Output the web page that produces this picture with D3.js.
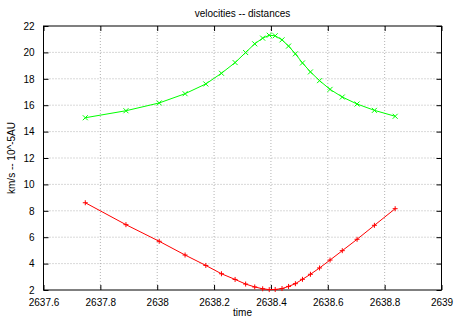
<!DOCTYPE html>
<html><head><meta charset="utf-8">
<script src="https://cdn.jsdelivr.net/npm/d3@7"></script>
<style>body{margin:0;background:#fff}svg{display:block}text{font-family:"Liberation Sans",Arial,sans-serif;font-size:10px;fill:#000}</style>
</head><body>
<script>
const times = [2637.747,2637.890,2638.007,2638.098,2638.171,2638.226,2638.274,2638.311,2638.343,2638.371,2638.394,2638.415,2638.439,2638.462,2638.486,2638.511,2638.539,2638.571,2638.608,2638.651,2638.703,2638.764,2638.837];
const velocities = [15.05,15.58,16.17,16.87,17.61,18.42,19.23,19.99,20.65,21.08,21.30,21.26,20.95,20.48,19.89,19.20,18.52,17.86,17.20,16.62,16.09,15.61,15.16];
const distances = [8.61,6.95,5.69,4.65,3.86,3.23,2.80,2.45,2.23,2.09,2.03,2.04,2.11,2.27,2.48,2.81,3.19,3.67,4.27,4.98,5.84,6.90,8.16];
const xTicks = [2637.6,2637.8,2638,2638.2,2638.4,2638.6,2638.8,2639];
const yTicks = [2,4,6,8,10,12,14,16,18,20,22];
const title = "velocities -- distances", xLabel = "time", yLabel = "km/s -- 10^-5AU";

const W=455,H=319, L=43.5, R=441.5, T=26, B=290;
const svg=d3.select("body").append("svg").attr("width",W).attr("height",H);
const x=d3.scaleLinear().domain([2637.6,2639]).range([L,R]);
const y=d3.scaleLinear().domain([2,22]).range([B,T]);

// grid
const g=svg.append("g");
xTicks.slice(1,-1).forEach(t=>g.append("line").attr("x1",x(t)).attr("x2",x(t)).attr("y1",T).attr("y2",B).attr("stroke","#a0a0a0").attr("stroke-width",0.8).attr("stroke-dasharray","1,2"));
yTicks.slice(1,-1).forEach(t=>g.append("line").attr("x1",L).attr("x2",R).attr("y1",y(t)).attr("y2",y(t)).attr("stroke","#a0a0a0").attr("stroke-width",0.8).attr("stroke-dasharray","1,2"));

// axes (ticks inward, mirrored)
const fmt=d=>d3.format("")(+d.toFixed(1));
svg.append("g").attr("transform",`translate(0,${B})`).call(d3.axisBottom(x).tickValues(xTicks).tickSize(-5).tickPadding(9).tickFormat(fmt)).call(a=>a.select(".domain").remove());
svg.append("g").attr("transform",`translate(0,${T})`).call(d3.axisTop(x).tickValues(xTicks).tickSize(-5).tickFormat("")).call(a=>a.select(".domain").remove());
svg.append("g").attr("transform",`translate(${L},0)`).call(d3.axisLeft(y).tickValues(yTicks).tickSize(-5).tickPadding(9)).call(a=>a.select(".domain").remove());
svg.append("g").attr("transform",`translate(${R},0)`).call(d3.axisRight(y).tickValues(yTicks).tickSize(-5).tickFormat("")).call(a=>a.select(".domain").remove());
svg.selectAll(".tick text").style("font-family","Liberation Sans, Arial, sans-serif").style("font-size","10px").attr("fill","#000");
svg.selectAll(".tick line").attr("stroke","#000");
svg.append("rect").attr("x",L).attr("y",T).attr("width",R-L).attr("height",B-T).attr("fill","none").attr("stroke","#000").attr("stroke-width",1);

// series
function series(vals,color,marker){
  const pts=times.map((t,i)=>[x(t),y(vals[i])]);
  svg.append("path").attr("d",d3.line()(pts)).attr("fill","none").attr("stroke",color).attr("stroke-width",1);
  const s=2.5;
  pts.forEach(([px,py])=>{
    const d = marker==="x" ? `M${px-s},${py-s}L${px+s},${py+s}M${px-s},${py+s}L${px+s},${py-s}` : `M${px-s},${py}L${px+s},${py}M${px},${py-s}L${px},${py+s}`;
    svg.append("path").attr("d",d).attr("stroke",color).attr("stroke-width",1).attr("fill","none");
  });
}
series(velocities,"#00ff00","x");
series(distances,"#ff0000","+");

svg.append("text").attr("x",(L+R)/2).attr("y",17).attr("text-anchor","middle").text(title);
svg.append("text").attr("x",(L+R)/2).attr("y",316).attr("text-anchor","middle").text(xLabel);
svg.append("text").attr("transform",`translate(15,${(T+B)/2}) rotate(-90)`).attr("text-anchor","middle").text(yLabel);
</script>
</body></html>
